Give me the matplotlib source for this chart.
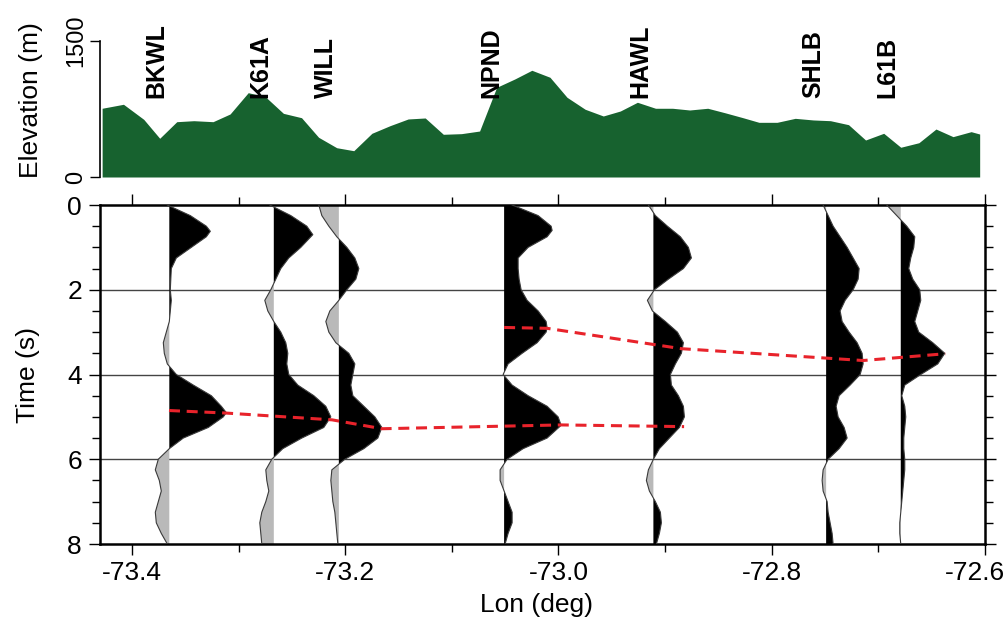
import numpy as np
import matplotlib
matplotlib.use("Agg")
import matplotlib.pyplot as plt
from matplotlib.ticker import MultipleLocator
from matplotlib.transforms import ScaledTranslation

plt.rcParams["font.family"] = ["Liberation Sans", "DejaVu Sans"]
plt.rcParams["axes.unicode_minus"] = False

GREEN = "#17622f"
NEG_GRAY = "#b9b9b9"
RED = "#e8232b"

# ── stations ───────────────────────────────────────────────
STATIONS = ["BKWL", "K61A", "WILL", "NPND", "HAWL", "SHLB", "L61B"]
STATION_LON = [-73.365, -73.267, -73.206, -73.051, -72.911, -72.749, -72.679]

# ── topography along the profile ───────────────────────────
PROFILE_LON = [-73.428, -73.408, -73.389, -73.374, -73.358, -73.342, -73.324,
               -73.308, -73.291, -73.275, -73.258, -73.241, -73.225, -73.208,
               -73.192, -73.175, -73.158, -73.141, -73.125, -73.108, -73.091,
               -73.074, -73.058, -73.041, -73.025, -73.008, -72.992, -72.975,
               -72.958, -72.942, -72.926, -72.909, -72.893, -72.877, -72.860,
               -72.844, -72.827, -72.812, -72.795, -72.778, -72.761, -72.745,
               -72.728, -72.712, -72.695, -72.679, -72.662, -72.646, -72.630,
               -72.613, -72.605]
PROFILE_ELEV = [758, 802, 636, 427, 610, 621, 610, 695, 930, 886, 702, 654,
                438, 323, 290, 482, 566, 640, 651, 471, 478, 507, 989, 1081,
                1177, 1100, 879, 747, 673, 728, 824, 758, 758, 739, 758, 709,
                654, 603, 603, 647, 629, 621, 577, 408, 482, 328, 378, 529,
                445, 500, 474]

# ── receiver-function traces (amplitude in plot units) ─────
T_GRID = [0, 0.25, 0.5, 0.75, 1.0, 1.25, 1.5, 1.75, 2.0, 2.25, 2.5, 2.75,
          3.0, 3.25, 3.5, 3.75, 4.0, 4.25, 4.5, 4.75, 5.0, 5.25, 5.5, 5.75,
          6.0, 6.25, 6.5, 6.75, 7.0, 7.25, 7.5, 7.75, 8.0]

BKWL_T = [0, 0.25, 0.5, 0.62, 0.75, 1.0, 1.25, 1.5, 1.75, 2.0, 2.25, 2.5,
          2.75, 3.0, 3.25, 3.5, 3.75, 4.0, 4.25, 4.5, 4.75, 4.9, 5.0, 5.25,
          5.5, 5.75, 6.0, 6.25, 6.5, 6.75, 7.0, 7.25, 7.5, 7.75, 8.0]
BKWL_A = [-2, 21, 37, 41, 37, 22, 7, 2, 1.5, 1, 2, 1, 0, -3, -6, -5, -2, 7,
          24, 42, 52, 57, 54, 39, 14, 0, -11, -14, -10, -8, -11, -14, -13,
          -8, -2]

K61A_T = [0, 0.25, 0.5, 0.7, 1.0, 1.25, 1.5, 1.75, 2.0, 2.25, 2.5, 2.75,
          3.0, 3.25, 3.5, 3.75, 4.0, 4.25, 4.5, 4.75, 5.0, 5.25, 5.5, 5.75,
          6.0, 6.25, 6.5, 6.75, 7.0, 7.25, 7.5, 7.75, 8.0]
K61A_A = [-4, 17, 33, 39, 27, 15, 7, 2, -3, -9, -6, 0, 7, 12, 14, 13, 15, 24,
          40, 52, 57, 50, 28, 9, -2, -8, -7, -5, -8, -12, -14, -13, -12]

WILL_T = T_GRID
WILL_A = [-20, -17, -10, -2, 8, 16, 20, 17, 8, 0, -9, -13, -10, -3, 10, 16,
          14, 12, 14, 25, 36, 43, 39, 25, 6, -7, -8, -7, -6, -4, -3, -2, -1]

NPND_T = [0, 0.25, 0.5, 0.6, 0.75, 1.0, 1.25, 1.5, 1.75, 2.0, 2.25, 2.5,
          2.75, 2.9, 3.0, 3.25, 3.5, 3.75, 4.0, 4.25, 4.5, 4.75, 5.0, 5.2,
          5.5, 5.75, 6.0, 6.25, 6.5, 6.75, 7.0, 7.25, 7.5, 7.75, 8.0]
NPND_A = [8, 34, 47, 48, 43, 24, 14, 14, 15, 17, 23, 34, 42, 43, 42, 33, 18,
          4, -1, 8, 24, 43, 54, 57, 43, 19, 3, -4, -4, 0, 4, 8, 8, 4, 1]

HAWL_T = T_GRID
HAWL_A = [-5, 2, 14, 27, 35, 38, 30, 15, 1, -6, -1, 12, 24, 30, 28, 22, 17,
          18, 25, 30, 31, 26, 16, 6, 0, -5, -7, -4, 2, 7, 8, 6, 3]

SHLB_T = T_GRID
SHLB_A = [-3, 2, 7, 14, 21, 27, 33, 32, 27, 19, 14, 16, 23, 31, 36, 37, 34,
          24, 13, 10, 12, 18, 21, 13, 2, -3, -4, -3, 1, 2, 4, 6, 7]

L61B_T = T_GRID
L61B_A = [-14, -4, 6, 14, 13, 10, 8, 12, 19, 20, 17, 14, 18, 32, 44, 37, 20,
          4, 1, 4, 5, 4, 3, 3, 4, 4, 3, 2, 1, 0, -1, -1, 0]

TRACES = [(BKWL_T, BKWL_A), (K61A_T, K61A_A), (WILL_T, WILL_A),
          (NPND_T, NPND_A), (HAWL_T, HAWL_A), (SHLB_T, SHLB_A),
          (L61B_T, L61B_A)]
AMP_SCALE = 1 / 1066.0   # degrees of longitude per amplitude unit

# ── picked phases (red dashed) ─────────────────────────────
PICK_A_LON = [-73.3653, -73.3118, -73.2124, -73.1655, -72.9976, -72.8822]
PICK_A_T = [4.85, 4.91, 5.07, 5.28, 5.19, 5.23]
PICK_B_LON = [-73.0510, -73.0107, -72.8851, -72.7143, -72.6373]
PICK_B_T = [2.89, 2.91, 3.39, 3.67, 3.51]

XLIM = (-73.430, -72.600)
X_TICKS = [-73.4, -73.2, -73.0, -72.8, -72.6]
W, H = 1008, 625

fig = plt.figure(figsize=(W / 100, H / 100), dpi=100)
fig.patch.set_facecolor("white")

# ── top panel: elevation ───────────────────────────────────
ax_top = fig.add_axes([100 / W, (H - 177) / H, 885 / W, 136 / H])
ax_top.fill_between(PROFILE_LON, 0, PROFILE_ELEV, color=GREEN, lw=0)
ax_top.set_xlim(*XLIM)
ax_top.set_ylim(0, 1500)
for s in ("top", "right", "bottom"):
    ax_top.spines[s].set_visible(False)
ax_top.spines["left"].set_linewidth(1.2)
ax_top.set_xticks([])
ax_top.set_yticks([0, 1500])
ax_top.tick_params(axis="y", direction="out", length=7, width=1.0,
                   labelsize=17, pad=2, labelrotation=90)
for lbl in ax_top.get_yticklabels():
    lbl.set_va("center")

for name, lon in zip(STATIONS, STATION_LON):
    ax_top.text(lon - 0.001, 870, name, rotation=90, ha="right", va="bottom",
                fontsize=18, fontweight="bold", clip_on=False)

# ── bottom panel: traces ───────────────────────────────────
ax = fig.add_axes([100 / W, (H - 544) / H, 885 / W, 339 / H])

for yv in (2, 4, 6):
    ax.axhline(yv, color="#444444", lw=1.0, zorder=1)

for lon, (tt, aa) in zip(STATION_LON, TRACES):
    tt = np.asarray(tt, dtype=float)
    aa = np.asarray(aa, dtype=float)
    xx = lon + aa * AMP_SCALE
    ax.fill_betweenx(tt, lon, xx, where=aa >= 0, interpolate=True,
                     color="black", lw=0, zorder=2)
    ax.fill_betweenx(tt, lon, xx, where=aa <= 0, interpolate=True,
                     color=NEG_GRAY, lw=0, zorder=2)
    ax.plot(xx, tt, color="#3a3a3a", lw=0.8, zorder=3)

ax.plot(PICK_A_LON, PICK_A_T, color=RED, lw=2.2, dashes=(3.6, 2.2), zorder=4)
ax.plot(PICK_B_LON, PICK_B_T, color=RED, lw=2.2, dashes=(3.6, 2.2), zorder=4)

ax.set_xticks(X_TICKS)
ax.set_xticklabels([f"{v:.1f}" for v in X_TICKS])
ax.xaxis.set_minor_locator(MultipleLocator(0.1))
ax.yaxis.set_major_locator(MultipleLocator(2))
ax.yaxis.set_minor_locator(MultipleLocator(0.5))
ax.set_xlim(*XLIM)
ax.set_ylim(8, 0)

ax.tick_params(which="both", direction="out", top=True, right=True,
               labeltop=False, labelright=False, labelsize=19)
ax.tick_params(which="major", length=8, width=1.0)
ax.tick_params(which="minor", length=6, width=1.0)
ax.tick_params(axis="x", which="major", pad=4)
ax.tick_params(axis="y", which="major", pad=5)
for s in ax.spines.values():
    s.set_linewidth(1.8)

# last lon label sits against the figure edge, nudge it inward
last = ax.get_xticklabels()[-1]
last.set_transform(last.get_transform()
                   + ScaledTranslation(-10 / 100, 0, fig.dpi_scale_trans))

fig.text(31 / W, 1 - 100 / H, "Elevation (m)", rotation=90, ha="center",
         va="center", fontsize=19)
fig.text(28 / W, 1 - 375 / H, "Time (s)", rotation=90, ha="center",
         va="center", fontsize=19)
fig.text(537 / W, 1 - 605 / H, "Lon (deg)", ha="center", va="center",
         fontsize=19)

fig.savefig("out.png", dpi=100, facecolor="white")
